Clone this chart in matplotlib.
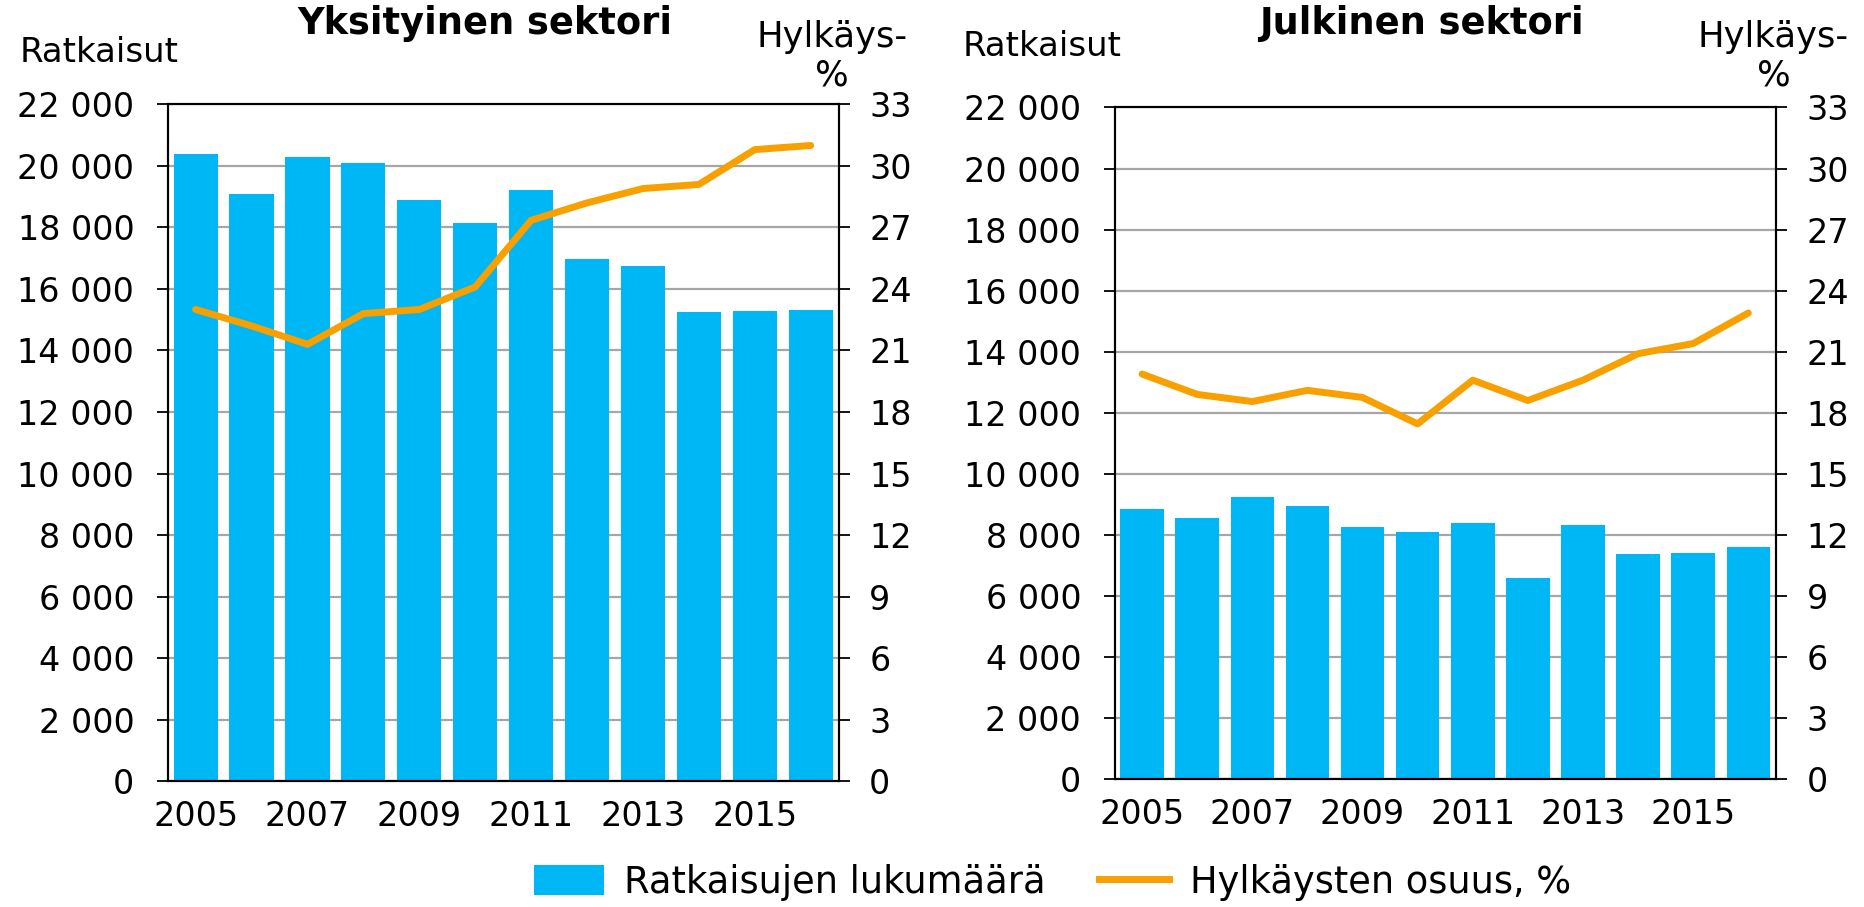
import matplotlib
matplotlib.use("Agg")
import matplotlib.pyplot as plt
from matplotlib.ticker import FuncFormatter, FixedLocator
from matplotlib.patches import Patch
from matplotlib.lines import Line2D

years = [2005, 2006, 2007, 2008, 2009, 2010, 2011, 2012, 2013, 2014, 2015, 2016]
year_labels = ["2005", "", "2007", "", "2009", "", "2011", "", "2013", "", "2015", ""]

private_counts = [20400, 19080, 20300, 20090, 18910, 18150, 19230, 16990, 16740, 15240, 15280, 15310]
private_rate = [23.0, 22.2, 21.3, 22.8, 23.0, 24.1, 27.35, 28.2, 28.9, 29.1, 30.8, 31.0]

public_counts = [8860, 8540, 9250, 8960, 8240, 8090, 8400, 6600, 8320, 7370, 7400, 7610]
public_rate = [19.9, 18.9, 18.55, 19.1, 18.75, 17.45, 19.6, 18.6, 19.6, 20.9, 21.4, 22.9]

titles = ["Yksityinen sektori", "Julkinen sektori"]
left_label = "Ratkaisut"
right_label = "Hylkäys-\n%"
legend_labels = ["Ratkaisujen lukumäärä", "Hylkäysten osuus, %"]

BAR_C = "#00B7F6"
LINE_C = "#F7A000"
GRID_C = "#A6A6A6"
FS = 24

plt.rcParams['font.family'] = ['DejaVu Sans']

fig = plt.figure(figsize=(18.65, 9.07), dpi=100)

panels = [
    ([0.0899, 0.1389, 0.3598, 0.7459], private_counts, private_rate),
    ([0.5976, 0.1411, 0.3546, 0.7404], public_counts, public_rate),
]

def thousands(v, pos):
    return f"{int(v):,}".replace(",", " ")

for rect, counts, rate in panels:
    ax = fig.add_axes(rect)
    x = list(range(len(years)))
    ax.bar(x, counts, width=0.79, color=BAR_C, zorder=2)
    ax.set_xlim(-0.5, len(years) - 0.5)
    ax.set_ylim(0, 22000)
    ax.yaxis.set_major_locator(FixedLocator(list(range(0, 22001, 2000))))
    ax.yaxis.set_major_formatter(FuncFormatter(thousands))
    ax.grid(axis='y', color=GRID_C, linewidth=1.6, zorder=1)
    ax.set_axisbelow(True)
    ax.set_xticks(x)
    ax.set_xticklabels(year_labels)
    ax.tick_params(axis='x', length=0, pad=14, labelsize=FS)
    ax.tick_params(axis='y', length=8, width=1.3, pad=16, labelsize=FS, direction='out')
    for s in ax.spines.values():
        s.set_linewidth(1.5)
        s.set_color('black')

    ax2 = ax.twinx()
    ax2.plot(x, rate, color=LINE_C, linewidth=5, solid_capstyle='round', solid_joinstyle='round', zorder=3)
    ax2.set_ylim(0, 33)
    ax2.yaxis.set_major_locator(FixedLocator(list(range(0, 34, 3))))
    ax2.tick_params(axis='y', length=8, width=1.3, pad=14, labelsize=FS, direction='out')
    for s in ax2.spines.values():
        s.set_linewidth(1.5)
        s.set_color('black')

# Titles and axis captions
TFS = 26.5
fig.text(485 / 1865, 1 - 24 / 907, titles[0], ha='center', va='center', fontsize=TFS, fontweight='bold')
fig.text(1421.5 / 1865, 1 - 24 / 907, titles[1], ha='center', va='center', fontsize=TFS, fontweight='bold')

fig.text(20 / 1865, 1 - 52 / 907, left_label, ha='left', va='center', fontsize=24.5)
fig.text(963 / 1865, 1 - 47 / 907, left_label, ha='left', va='center', fontsize=24.5)

fig.text(832 / 1865, 1 - 56 / 907, right_label, ha='center', va='center', fontsize=25.5, linespacing=1.15)
fig.text(1773.5 / 1865, 1 - 56 / 907, right_label, ha='center', va='center', fontsize=25.5, linespacing=1.15)

handles = [Patch(facecolor=BAR_C, edgecolor='none'),
           Line2D([0], [0], color=LINE_C, linewidth=5)]
fig.legend(handles, legend_labels, loc='center', bbox_to_anchor=(0.5643, 0.027),
           ncol=2, frameon=False, fontsize=26.5, handlelength=1.9, handleheight=0.87,
           columnspacing=1.45, handletextpad=0.55)

fig.savefig("out.png", dpi=100)
